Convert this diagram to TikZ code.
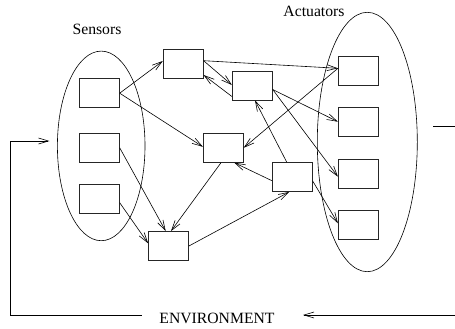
\documentclass[tikz,border=0pt]{standalone}
\usepackage{fontspec}
\setmainfont{Liberation Serif}
\usetikzlibrary{arrows.meta}
\begin{document}
\begin{tikzpicture}[x=1pt,y=-1pt,
  unit/.style={draw=black!85,line width=0.8pt,minimum width=40pt,minimum height=29pt,inner sep=0pt},
  arr/.style={line width=0.6pt,-{Straight Barb[length=10pt,width=6pt,line width=0.6pt]}},
  plain/.style={line width=0.6pt},
  group/.style={draw,line width=0.6pt},
  lbl/.style={font=\fontsize{15.7}{18}\selectfont,anchor=base,inner sep=0pt}]
\useasboundingbox (0,0) rectangle (455,329);
% groups
\draw[group] (101.2,145.9) ellipse [x radius=43.8, y radius=94.8];
\draw[group] (367.3,142) ellipse [x radius=50, y radius=129.7];
\node[lbl] (sensl) at (97,35) {Sensors};
\node[lbl] (actl) at (314,16.7) {Actuators};
\node[lbl] (env) at (217,323.3) {ENVIRONMENT};
% sensor boxes
\node[unit] (S1) at (99.3,93.2) {};
\node[unit] (S2) at (99.3,147.8) {};
\node[unit] (S3) at (99.3,198.7) {};
% internal boxes
\node[unit] (A) at (183.2,64) {};
\node[unit] (B) at (252.3,85.5) {};
\node[unit] (C) at (223.3,147.8) {};
\node[unit] (D) at (292.3,177) {};
\node[unit] (E) at (168.5,246) {};
% actuator boxes
\node[unit] (T1) at (358.3,71.3) {};
\node[unit] (T2) at (358.3,122.2) {};
\node[unit] (T3) at (358.3,173.4) {};
\node[unit] (T4) at (358.3,224.5) {};
% connectors
\draw[arr] (S1.east) -- ([yshift=3pt]A.west);
\draw[arr] (S1.east) -- ([yshift=1pt]C.west);
\draw[arr] (S2.east) -- ([xshift=-2.8pt]E.north);
\draw[arr] ([yshift=-4pt]S3.east) -- ([yshift=2.7pt]E.west);
\draw[arr] ([xshift=-2.3pt]C.south) -- ([xshift=2.5pt]E.north);
\draw[arr] (E.east) -- ([xshift=-3pt]D.south);
\draw[arr] ([yshift=-3.7pt]D.west) -- ([xshift=11pt]C.south);
\draw[arr] ([xshift=-5.6pt]D.north) -- ([xshift=2.7pt]B.south);
\draw[arr] ([yshift=-4pt]D.east) -- ([yshift=1.2pt]T4.west);
\draw[arr] ([yshift=3.3pt]A.east) -- ([yshift=3pt]T1.west);
\draw[arr] ([yshift=3pt]T1.west) -- (C.east);
\draw[arr] ([yshift=3.3pt]A.east) -- ([yshift=0.5pt]B.west);
\draw[arr] ([yshift=-11pt]B.west) -- ([yshift=-11pt]A.east);
\draw[arr] ([yshift=-4pt]B.east) -- ([yshift=0.5pt]T2.west);
\draw[arr] ([yshift=-4pt]B.east) -- ([yshift=-3.3pt]T3.west);
% environment feedback
\coordinate (envL) at (141.7,315);
\coordinate (cBL) at (10.3,315);
\coordinate (cTL) at (10.3,141);
\coordinate (sIn) at (49.5,141);
\coordinate (rEnd) at (455,315);
\coordinate (rTip) at (303,315);
\coordinate (oA) at (433.3,126);
\coordinate (oB) at (455,126);
\draw[arr] (envL) -- (cBL) -- (cTL) -- (sIn);
\draw[arr] (rEnd) -- (rTip);
\draw[plain] (oA) -- (oB);
\end{tikzpicture}
\end{document}
